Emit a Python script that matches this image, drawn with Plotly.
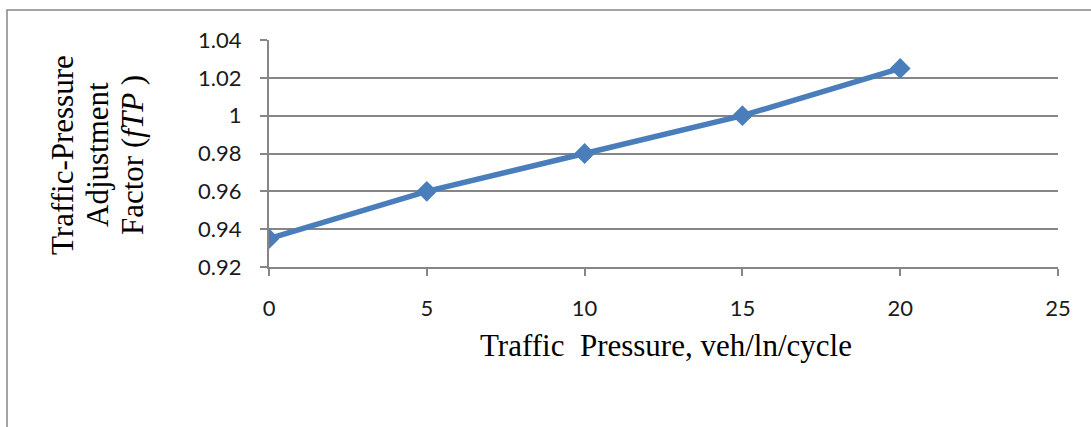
import plotly.graph_objects as go

# Traffic-pressure adjustment factor vs. traffic pressure
pressure = [0, 5, 10, 15, 20]
factor = [0.935, 0.96, 0.98, 1.0, 1.025]

x_ticks = [0, 5, 10, 15, 20, 25]
y_ticks = [0.92, 0.94, 0.96, 0.98, 1.0, 1.02, 1.04]
y_tick_text = ["0.92", "0.94", "0.96", "0.98", "1", "1.02", "1.04"]

W, H = 1091, 427
L, R, T, B = 269, 33, 40, 160
plot_w = W - L - R
plot_h = H - T - B

GRID = "#868686"
BLUE = "#4A7EBB"
TICK_FONT = dict(family="Lato, Calibri, sans-serif", size=22, color="#1a1a1a")
TITLE_FONT = dict(family="Liberation Serif, Times New Roman, serif", size=31, color="#000000")


def px_x(px):
    return (px - L) / plot_w


def px_y(py):
    return (H - B - py) / plot_h


fig = go.Figure(
    go.Scatter(
        x=pressure,
        y=factor,
        mode="lines+markers",
        line=dict(color=BLUE, width=5.5),
        marker=dict(symbol="diamond", size=16, color=BLUE),
        showlegend=False,
    )
)

fig.update_xaxes(
    range=[0, 25],
    tickvals=x_ticks,
    showgrid=False,
    zeroline=False,
    showline=True,
    linecolor=GRID,
    linewidth=2,
    ticks="outside",
    ticklen=7,
    tickwidth=2,
    tickcolor=GRID,
    tickfont=TICK_FONT,
    ticklabelstandoff=14,
)
fig.update_yaxes(
    range=[0.92, 1.04],
    tickvals=y_ticks,
    ticktext=y_tick_text,
    showgrid=True,
    gridcolor=GRID,
    gridwidth=1.8,
    zeroline=False,
    showline=True,
    linecolor=GRID,
    linewidth=2,
    ticks="outside",
    ticklen=7,
    tickwidth=2,
    tickcolor=GRID,
    tickfont=TICK_FONT,
    ticklabelstandoff=14,
)

annotations = [
    dict(
        text="Traffic  Pressure, veh/ln/cycle",
        x=px_x(666), y=px_y(345),
        xref="paper", yref="paper",
        xanchor="center", yanchor="middle",
        showarrow=False, font=TITLE_FONT,
    )
]
for cx, line in [(62, "Traffic-Pressure"), (97, "Adjustment"), (132, "Factor (<i>fTP</i> )")]:
    annotations.append(
        dict(
            text=line,
            x=px_x(cx), y=px_y(155),
            xref="paper", yref="paper",
            xanchor="center", yanchor="middle",
            textangle=-90,
            showarrow=False, font=TITLE_FONT,
        )
    )

# chart frame: left and top edges visible, the rest runs off the canvas
shapes = [
    dict(type="rect", xref="paper", yref="paper",
         x0=px_x(7), x1=px_x(W + 20), y0=px_y(H + 20), y1=px_y(10),
         line=dict(color=GRID, width=1.5), fillcolor="rgba(0,0,0,0)", layer="below"),
]

fig.update_layout(
    width=W,
    height=H,
    margin=dict(l=L, r=R, t=T, b=B),
    paper_bgcolor="white",
    plot_bgcolor="white",
    annotations=annotations,
    shapes=shapes,
)

fig.write_html("out.html")
